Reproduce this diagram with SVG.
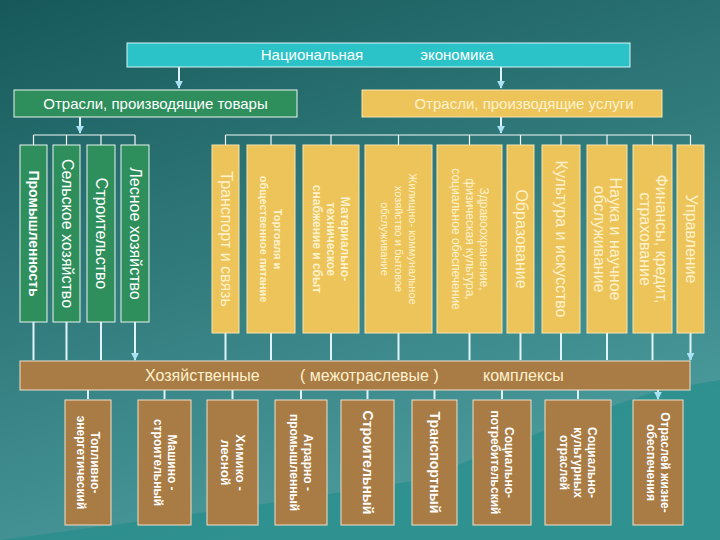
<svg xmlns="http://www.w3.org/2000/svg" width="720" height="540" viewBox="0 0 720 540">
<style>
.f{font-family:"Liberation Sans",Arial,sans-serif}
.w{fill:#ffffff}
.y{fill:#fff2cc}
.b{font-weight:bold}
.gbox{fill:#2e8f5c;stroke:#e8f4ee;stroke-width:1}
.ybox{fill:#edc45a;stroke:#f5e6b0;stroke-width:1}
.bbox{fill:#a97b45;stroke:#f0e0c8;stroke-width:1}
.ln{stroke:#f2f8f8;stroke-width:1.2;fill:none}
.ar{stroke:#dff4fa;stroke-width:2;fill:none;marker-end:url(#ah)}
</style>
<defs>
<linearGradient id="bg" x1="0" y1="0" x2="0.4" y2="1">
<stop offset="0" stop-color="#17595a"/><stop offset="1" stop-color="#4a9a9c"/>
</linearGradient>
<marker id="ah" viewBox="0 0 10 10" refX="9" refY="5" markerWidth="8" markerHeight="8" markerUnits="userSpaceOnUse" orient="auto"><path d="M0,0L10,5L0,10z" fill="#a9e2f4"/></marker>
</defs>
<rect width="720" height="540" fill="url(#bg)"/>
<path d="M0,540 L150,520 L290,500 L420,480 L520,440 L600,410 L660,390 L720,380 L720,540 Z" fill="#1f8c8a" opacity="0.6"/>

<g id="connectors">
<path class="ar" d="M179,67 V88"/>
<path class="ar" d="M501,67 V88"/>
<path class="ar" d="M80,117 V133"/>
<path class="ar" d="M501,117 V133"/>
<path class="ln" d="M33.5,135 H135 M33.5,135 V145 M66.5,135 V145 M101,135 V145 M135,135 V145"/>
<path class="ln" d="M225.5,135 H690.5 M225.5,135 V145 M271,135 V145 M331,135 V145 M398.5,135 V145 M469.5,135 V145 M520.5,135 V145 M561,135 V145 M607,135 V145 M652.5,135 V145 M690.5,135 V145"/>
<path class="ar" d="M33.5,322 V360 M66.5,322 V360 M101,322 V360 M135,322 V360"/>
<path class="ar" d="M225.5,333 V360 M271,333 V360 M331,333 V360 M398.5,333 V360 M469.5,333 V360 M520.5,333 V360 M561,333 V360 M607,333 V360 M652.5,333 V360 M690.5,333 V360"/>
<path class="ar" d="M88,390 V399 M164.5,390 V399 M232.5,390 V399 M301,390 V399 M367.5,390 V399 M434.5,390 V399 M502,390 V399 M578,390 V399 M658,390 V399"/>
</g>

<g id="top"><rect x="127" y="43" width="503" height="24" fill="#2cc3c8" stroke="#d8f4f6"/>
<text class="f w" x="312" y="60" font-size="15" text-anchor="middle">Национальная</text>
<text class="f w" x="457" y="60" font-size="15" text-anchor="middle">экономика</text></g>
<g id="goods"><rect x="14" y="90" width="283" height="27" fill="#2e8f5c" stroke="#e8f4ee"/>
<text class="f w" x="155.5" y="109" font-size="15" text-anchor="middle">Отрасли, производящие товары</text></g>
<g id="services"><rect x="362" y="90" width="300" height="27" fill="#edc45a" stroke="#f5e6b0"/>
<text class="f y" x="524" y="109" font-size="15" text-anchor="middle">Отрасли, производящие услуги</text></g>

<g id="g1"><rect class="gbox" x="20" y="145" width="27" height="177"/><text class="f w b" font-size="14" text-anchor="middle" transform="translate(33.5,233.5) rotate(90)" y="5">Промышленность</text></g>
<g id="g2"><rect class="gbox" x="53" y="145" width="27" height="177"/><text class="f w" font-size="16" text-anchor="middle" transform="translate(66.5,233.5) rotate(90)" y="5">Сельское хозяйство</text></g>
<g id="g3"><rect class="gbox" x="87" y="145" width="28" height="177"/><text class="f w" font-size="16" text-anchor="middle" transform="translate(101,233.5) rotate(90)" y="5">Строительство</text></g>
<g id="g4"><rect class="gbox" x="121" y="145" width="28" height="177"/><text class="f w" font-size="16" text-anchor="middle" transform="translate(135,233.5) rotate(90)" y="5">Лесное хозяйство</text></g>

<g id="s1"><rect class="ybox" x="212" y="145" width="27" height="188"/><text class="f y" font-size="16" text-anchor="middle" transform="translate(225.5,239) rotate(90)" y="5">Транспорт и связь</text></g>
<g id="s2"><rect class="ybox" x="247" y="145" width="48" height="188"/><text class="f y b" font-size="11" text-anchor="middle" transform="translate(271,239) rotate(90)"><tspan x="0" y="-3">Торговля и</tspan><tspan x="0" y="11">общественное питание</tspan></text></g>
<g id="s3"><rect class="ybox" x="303" y="145" width="56" height="188"/><text class="f y b" font-size="12" text-anchor="middle" transform="translate(331,239) rotate(90)"><tspan x="0" y="-10">Материально-</tspan><tspan x="0" y="4">техническое</tspan><tspan x="0" y="18">снабжение и сбыт</tspan></text></g>
<g id="s4"><rect class="ybox" x="365" y="145" width="67" height="188"/><text class="f y" font-size="11" text-anchor="middle" transform="translate(398.5,239) rotate(90)"><tspan x="0" y="-10">Жилищно- коммунальное</tspan><tspan x="0" y="4">хозяйство и бытовое</tspan><tspan x="0" y="18">обслуживание</tspan></text></g>
<g id="s5"><rect class="ybox" x="437" y="145" width="65" height="188"/><text class="f y" font-size="12" text-anchor="middle" transform="translate(469.5,239) rotate(90)"><tspan x="0" y="-10">Здравоохранение,</tspan><tspan x="0" y="4">физическая культура,</tspan><tspan x="0" y="18">социальное обеспечение</tspan></text></g>
<g id="s6"><rect class="ybox" x="507" y="145" width="27" height="188"/><text class="f y" font-size="16" text-anchor="middle" transform="translate(520.5,239) rotate(90)" y="5">Образование</text></g>
<g id="s7"><rect class="ybox" x="542" y="145" width="38" height="188"/><text class="f y" font-size="16" text-anchor="middle" transform="translate(561,239) rotate(90)" y="5">Культура и искусство</text></g>
<g id="s8"><rect class="ybox" x="587" y="145" width="40" height="188"/><text class="f y" font-size="16" text-anchor="middle" transform="translate(607,239) rotate(90)"><tspan x="0" y="-3">Наука и научное</tspan><tspan x="0" y="13">обслуживание</tspan></text></g>
<g id="s9"><rect class="ybox" x="633" y="145" width="39" height="188"/><text class="f y" font-size="16" text-anchor="middle" transform="translate(652.5,239) rotate(90)"><tspan x="0" y="-3">Финансы, кредит,</tspan><tspan x="0" y="13">страхование</tspan></text></g>
<g id="s10"><rect class="ybox" x="677" y="145" width="27" height="188"/><text class="f y" font-size="16" text-anchor="middle" transform="translate(690.5,239) rotate(90)" y="5">Управление</text></g>

<g id="band"><rect x="20" y="361" width="670" height="29" fill="#a97b45" stroke="#f0e0c8"/>
<text class="f y" font-size="16" y="381"><tspan x="145">Хозяйственные</tspan><tspan x="300">( межотраслевые )</tspan><tspan x="483">комплексы</tspan></text></g>

<g id="c1"><rect class="bbox" x="65" y="400" width="46" height="125"/><text class="f w b" font-size="12" text-anchor="middle" transform="translate(88,462.5) rotate(90)"><tspan x="0" y="-3">Топливно-</tspan><tspan x="0" y="11">энергетический</tspan></text></g>
<g id="c2"><rect class="bbox" x="138" y="400" width="53" height="125"/><text class="f w b" font-size="12" text-anchor="middle" transform="translate(164.5,462.5) rotate(90)"><tspan x="0" y="-3">Машино -</tspan><tspan x="0" y="11">строительный</tspan></text></g>
<g id="c3"><rect class="bbox" x="207" y="400" width="51" height="125"/><text class="f w b" font-size="13" text-anchor="middle" transform="translate(232.5,462.5) rotate(90)"><tspan x="0" y="-3">Химико -</tspan><tspan x="0" y="12">лесной</tspan></text></g>
<g id="c4"><rect class="bbox" x="275" y="400" width="52" height="125"/><text class="f w b" font-size="12" text-anchor="middle" transform="translate(301,462.5) rotate(90)"><tspan x="0" y="-3">Аграрно -</tspan><tspan x="0" y="11">промышленный</tspan></text></g>
<g id="c5"><rect class="bbox" x="341" y="400" width="53" height="125"/><text class="f w b" font-size="14" text-anchor="middle" transform="translate(367.5,462.5) rotate(90)" y="5">Строительный</text></g>
<g id="c6"><rect class="bbox" x="412" y="400" width="45" height="125"/><text class="f w b" font-size="14" text-anchor="middle" transform="translate(434.5,462.5) rotate(90)" y="5">Транспортный</text></g>
<g id="c7"><rect class="bbox" x="473" y="400" width="58" height="125"/><text class="f w b" font-size="12" text-anchor="middle" transform="translate(502,462.5) rotate(90)"><tspan x="0" y="-3">Социально-</tspan><tspan x="0" y="11">потребительский</tspan></text></g>
<g id="c8"><rect class="bbox" x="545" y="400" width="66" height="125"/><text class="f w b" font-size="12" text-anchor="middle" transform="translate(578,462.5) rotate(90)"><tspan x="0" y="-10">Социально-</tspan><tspan x="0" y="4">культурных</tspan><tspan x="0" y="18">отраслей</tspan></text></g>
<g id="c9"><rect class="bbox" x="633" y="400" width="50" height="125"/><text class="f w b" font-size="12" text-anchor="middle" transform="translate(658,462.5) rotate(90)"><tspan x="0" y="-3">Отраслей жизне-</tspan><tspan x="0" y="11">обеспечения</tspan></text></g>
</svg>
